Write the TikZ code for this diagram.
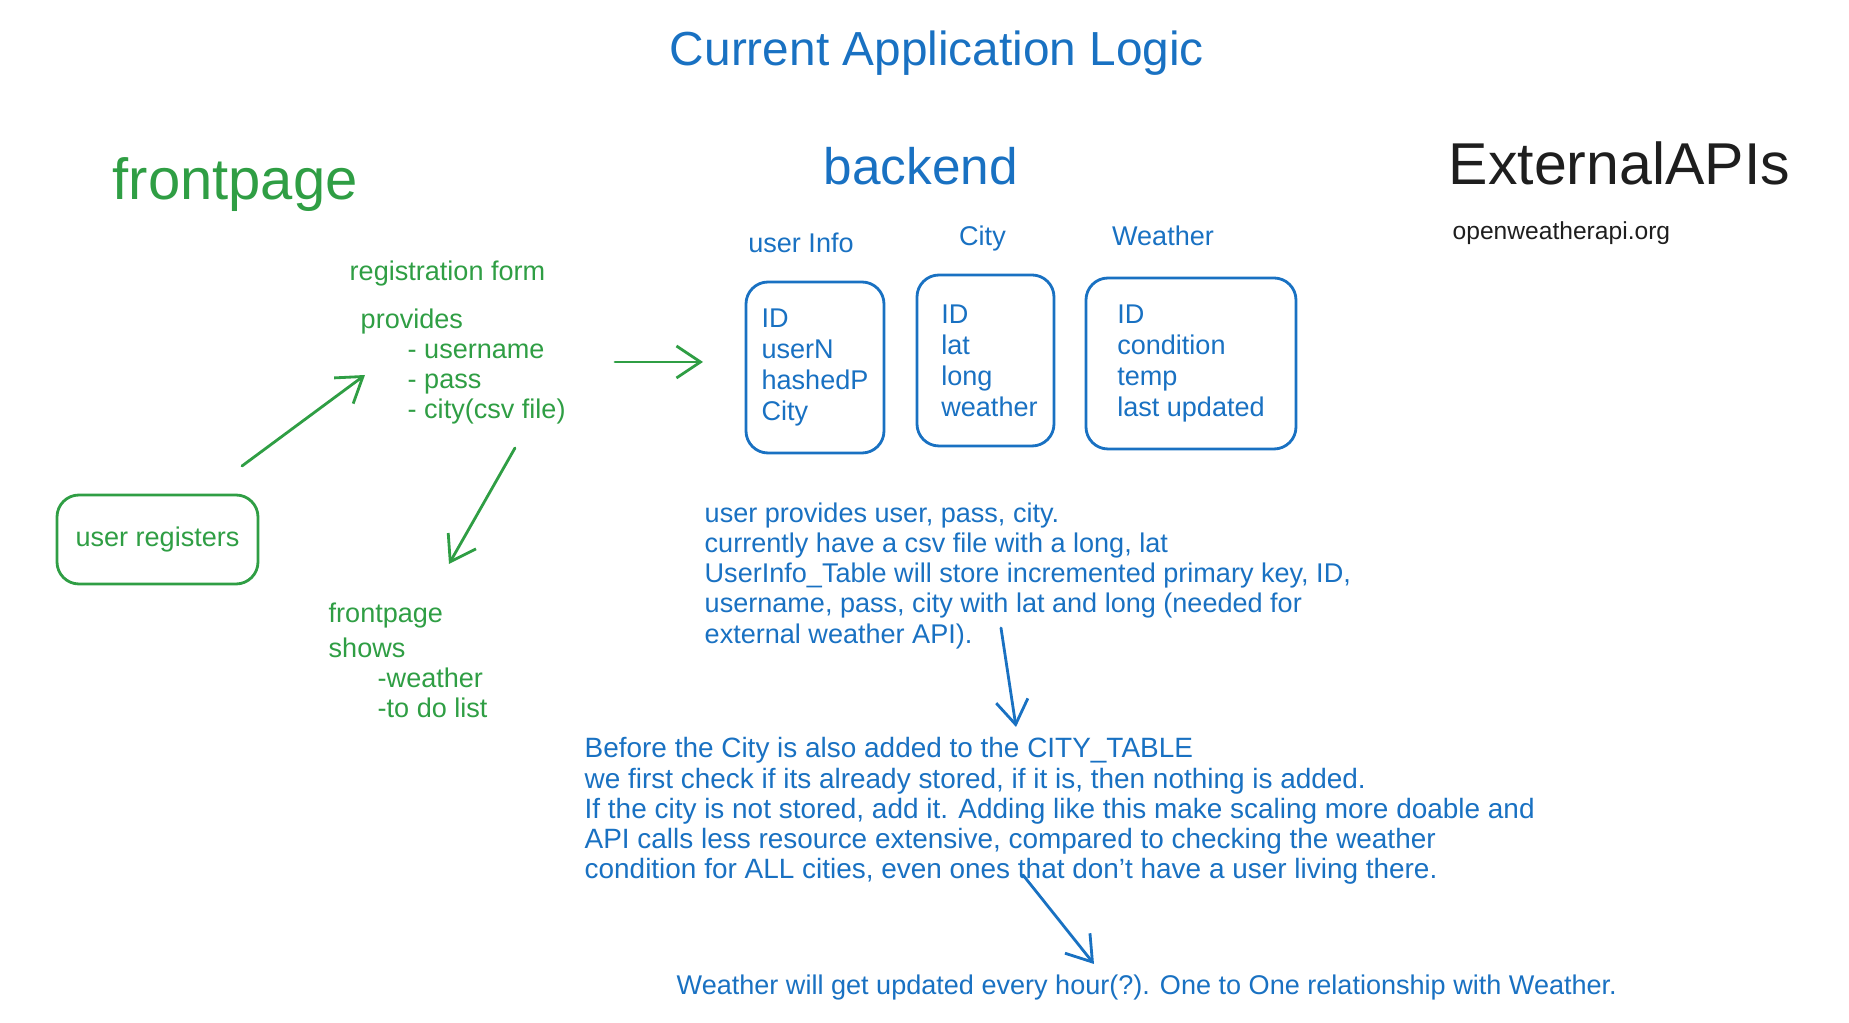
\documentclass[tikz,border=0pt]{standalone}
\usepackage{fontspec}
\setmainfont{Liberation Sans}
\usepackage{xcolor}
\definecolor{clFront}{HTML}{2F9E44}
\definecolor{clBack}{HTML}{1971C2}
\definecolor{clExt}{HTML}{1E1E1E}
\usetikzlibrary{arrows.meta,positioning}
\tikzset{
  note/.style={inner sep=0pt, align=left, font=\fontsize{7.7}{8.6}\selectfont},
  heading/.style={inner sep=0pt, font=\fontsize{15.5}{18}\selectfont},
  frontnote/.style={note, text=clFront},
  backnote/.style={note, text=clBack},
  sketchbox/.style={rectangle, rounded corners=0.22cm, draw, thick, align=left,
                    inner sep=0pt, font=\fontsize{7.7}{8.8}\selectfont},
  frontbox/.style={sketchbox, draw=clFront, text=clFront},
  tablebox/.style={sketchbox, draw=clBack, text=clBack, minimum height=1.71cm},
  gflow/.style={-{Straight Barb[length=2.4mm,width=3.2mm]}, thick, draw=clFront, line cap=round},
  bflow/.style={-{Straight Barb[length=2.4mm,width=3.2mm]}, thick, draw=clBack, line cap=round},
}

\begin{document}
\begin{tikzpicture}
  \useasboundingbox (0,0) rectangle (18.49,-10.23);
  \node[heading, text=clBack, font=\fontsize{13.6}{16}\selectfont] (title) at (9.37,-0.53) {Current Application Logic};
  % column headings
  \node[heading, text=clFront, anchor=base west, font=\fontsize{16.5}{19}\selectfont] (hfront) at (1.12,-2.00) {frontpage};
  \node[heading, text=clBack, anchor=base west, font=\fontsize{14.6}{17}\selectfont] (hback) at (8.23,-1.85) {backend};
  \node[heading, text=clExt, anchor=base west, font=\fontsize{16.8}{19}\selectfont] (hext) at (14.48,-1.85) {ExternalAPIs};
  \node[note, text=clExt, anchor=base west, font=\fontsize{7}{8}\selectfont] (apiurl) at (14.52,-2.40) {openweatherapi.org};

  % frontpage side
  \node[frontbox, minimum width=2.01cm, minimum height=0.89cm] (userreg) at (1.575,-5.395) {user registers};
  \node[frontnote, anchor=base west] (regform) at (3.49,-2.81) {registration form};
  \node[frontnote, anchor=north west] (provides) at (3.60,-3.08)
    {provides\\ \hspace*{0.47cm}- username\\ \hspace*{0.47cm}- pass\\ \hspace*{0.47cm}- city(csv file)};
  \node[frontnote, anchor=north west] (shows) at (3.28,-6.02)
    {frontpage\\[0.5mm] shows\\ \hspace*{0.49cm}-weather\\ \hspace*{0.49cm}-to do list};

  % backend tables
  \node[tablebox, minimum width=1.38cm] (userinfo) at (8.15,-3.675) {ID\\ userN\\ hashedP\\ City};
  \node[tablebox, minimum width=1.37cm] (city) at (9.855,-3.605) {\hspace*{0.08cm}ID\\ \hspace*{0.08cm}lat\\ \hspace*{0.08cm}long\\ \hspace*{0.08cm}weather};
  \node[tablebox, minimum width=2.10cm] (weather) at (11.91,-3.635) {ID\\ condition\\ temp\\ last updated};
  \node[backnote, above=0.27cm of userinfo, xshift=-0.14cm] (luserinfo) {user Info};
  \node[backnote, above=0.22cm of city, xshift=-0.03cm] (lcity) {City};
  \node[backnote, above=0.30cm of weather, xshift=-0.28cm] (lweather) {Weather};

  \node[backnote, anchor=north west] (signup) at (7.04,-5.02)
    {user provides user, pass, city.\\
     currently have a csv file with a long, lat\\
     UserInfo\_Table will store incremented primary key, ID,\\
     username, pass, city with lat and long (needed for\\
     external weather API).};
  \node[backnote, anchor=north west, font=\fontsize{7.95}{8.6}\selectfont] (citycheck) at (5.84,-7.37)
    {Before the City is also added to the CITY\_TABLE\\
     we first check if its already stored, if it is, then nothing is added.\\
     If the city is not stored, add it. Adding like this make scaling more doable and\\
     API calls less resource extensive, compared to checking the weather\\
     condition for ALL cities, even ones that don't have a user living there.};
  \node[backnote, anchor=base west] (update) at (6.76,-9.95)
    {Weather will get updated every hour(?). One to One relationship with Weather.};

  % arrows
  \coordinate (regTail) at (2.42,-4.66);
  \coordinate (regTip) at (3.65,-3.75);
  \coordinate (showTail) at (5.15,-4.48);
  \coordinate (showTip) at (4.49,-5.64);
  \coordinate (tabTail) at (6.15,-3.62);
  \coordinate (tabTip) at (7.03,-3.62);
  \coordinate (cityTail) at (10.01,-6.28);
  \coordinate (cityTip) at (10.16,-7.27);
  \coordinate (updTail) at (10.23,-8.75);
  \coordinate (updTip) at (10.94,-9.64);
  \draw[gflow] (regTail) -- (regTip);
  \draw[gflow] (showTail) -- (showTip);
  \draw[gflow] (tabTail) -- (tabTip);
  \draw[bflow] (cityTail) -- (cityTip);
  \draw[bflow] (updTail) -- (updTip);
\end{tikzpicture}
\end{document}
